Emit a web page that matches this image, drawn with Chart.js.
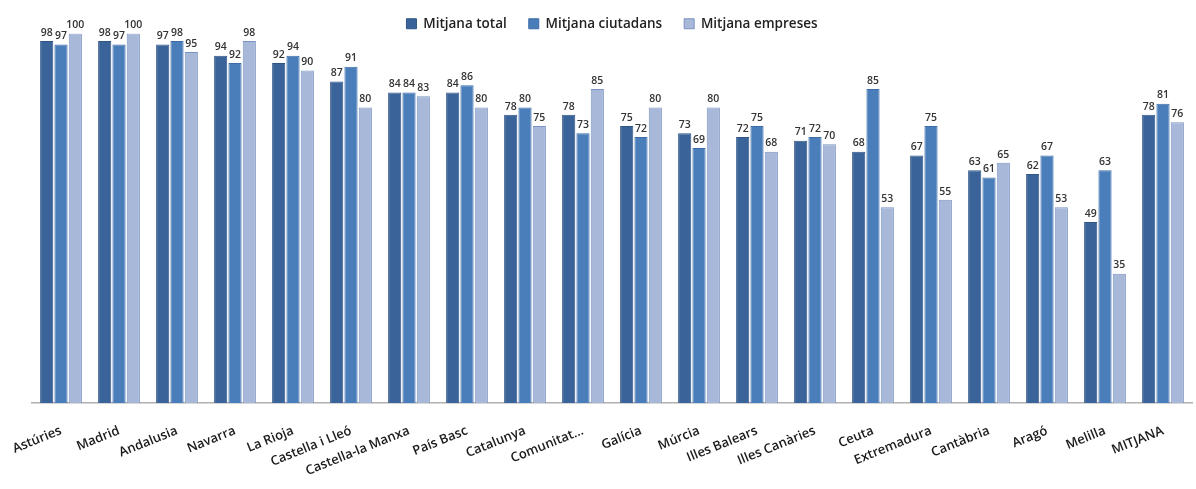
<!DOCTYPE html>
<html>
<head>
<meta charset="utf-8">
<script src="https://cdn.jsdelivr.net/npm/chart.js@4"></script>
<style>
  html, body { margin: 0; padding: 0; background: #fff; }
  #wrap { width: 1196px; height: 489px; }
</style>
</head>
<body>
<div id="wrap"><canvas id="chart" width="1196" height="489"></canvas></div>
<script>
const regions = ["Astúries", "Madrid", "Andalusia", "Navarra", "La Rioja", "Castella i Lleó",
  "Castella-la Manxa", "País Basc", "Catalunya", "Comunitat...", "Galícia", "Múrcia",
  "Illes Balears", "Illes Canàries", "Ceuta", "Extremadura", "Cantàbria", "Aragó", "Melilla", "MITJANA"];
const mitjanaTotal = [98, 98, 97, 94, 92, 87, 84, 84, 78, 78, 75, 73, 72, 71, 68, 67, 63, 62, 49, 78];
const mitjanaCiutadans = [97, 97, 98, 92, 94, 91, 84, 86, 80, 73, 72, 69, 75, 72, 85, 75, 61, 67, 63, 81];
const mitjanaEmpreses = [100, 100, 95, 98, 90, 80, 83, 80, 75, 85, 80, 80, 68, 70, 53, 55, 65, 53, 35, 76];

const font = "'Open Sans', 'DejaVu Sans', sans-serif";

// values printed above each bar
const barLabels = {
  id: "barLabels",
  afterDatasetsDraw(chart) {
    const ctx = chart.ctx;
    ctx.save();
    ctx.font = "600 10.5px " + font;
    ctx.fillStyle = "#333";
    ctx.textAlign = "center";
    ctx.textBaseline = "bottom";
    chart.data.datasets.forEach((ds, i) => {
      chart.getDatasetMeta(i).data.forEach((bar, j) => {
        ctx.fillText(ds.data[j], bar.x, bar.y - 3);
      });
    });
    ctx.restore();
  },
};

// legend takes less room than chart.js gives it
const tightLegend = {
  id: "tightLegend",
  afterInit(chart) {
    const fit = chart.legend.fit;
    chart.legend.fit = function () {
      fit.call(this);
      this.height -= 7;
    };
  },
};

new Chart(document.getElementById("chart"), {
  type: "bar",
  data: {
    labels: regions,
    datasets: [
      { label: "Mitjana total", data: mitjanaTotal, backgroundColor: "#3a6499", borderColor: "#2f5585", borderWidth: 1 },
      { label: "Mitjana ciutadans", data: mitjanaCiutadans, backgroundColor: "#4a7ebb", borderColor: "#3c6ca6", borderWidth: 1 },
      { label: "Mitjana empreses", data: mitjanaEmpreses, backgroundColor: "#a7b8d8", borderColor: "#7b93c2", borderWidth: 1 },
    ],
  },
  options: {
    responsive: false,
    animation: false,
    categoryPercentage: 0.74,
    barPercentage: 0.92,
    layout: { padding: { left: 32, right: 4, top: -5, bottom: 0 } },
    plugins: {
      legend: {
        position: "top",
        labels: {
          boxWidth: 10,
          boxHeight: 10,
          padding: 22,
          color: "#222",
          font: { family: font, size: 13.5, weight: "600" },
        },
      },
      tooltip: { enabled: false },
    },
    scales: {
      x: {
        grid: { display: false },
        border: { color: "#b0b0b0", width: 1.5 },
        afterFit(scale) { scale.height = 86; },
        ticks: {
          color: "#1a1a1a",
          font: { family: font, size: 13, weight: "600" },
          minRotation: 22,
          maxRotation: 22,
          autoSkip: false,
          padding: 12,
        },
      },
      y: {
        display: false,
        min: 0,
        max: 100,
      },
    },
  },
  plugins: [barLabels, tightLegend],
});
</script>
</body>
</html>
